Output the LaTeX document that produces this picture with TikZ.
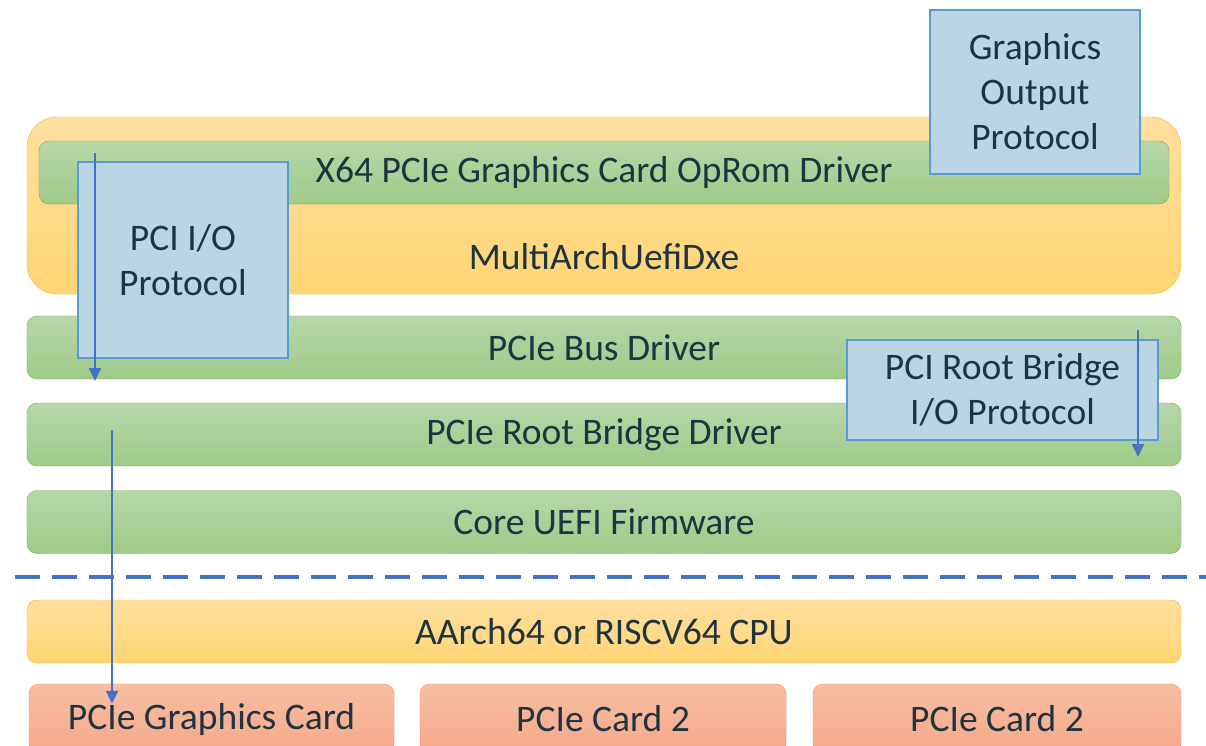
\documentclass[tikz,border=0pt]{standalone}
\usepackage{fontspec}
\setmainfont{Carlito}
\usetikzlibrary{arrows.meta}

\definecolor{txt}{RGB}{30,52,64}
\definecolor{arrowblue}{RGB}{68,114,196}
\definecolor{protofill}{RGB}{186,214,228}
\definecolor{protoline}{RGB}{91,155,213}
\definecolor{greentop}{RGB}{183,215,168}
\definecolor{greenbot}{RGB}{158,202,136}
\definecolor{greenline}{RGB}{112,173,71}
\definecolor{ambertop}{RGB}{255,223,160}
\definecolor{amberbot}{RGB}{255,213,115}
\definecolor{amberline}{RGB}{240,185,30}
\definecolor{cardtop}{RGB}{248,190,163}
\definecolor{cardbot}{RGB}{244,168,136}
\definecolor{cardline}{RGB}{232,140,100}

\tikzset{
  greenlayer/.style={draw=greenline, top color=greentop, bottom color=greenbot,
    rounded corners=10, minimum width=1154, minimum height=63, inner sep=0,
    text=txt, font=\fontsize{37.5}{40}\selectfont},
  amberlayer/.style={draw=amberline, top color=ambertop, bottom color=amberbot,
    rounded corners=10, minimum width=1154, minimum height=63, inner sep=0,
    text=txt, font=\fontsize{37.5}{40}\selectfont},
  cardbox/.style={draw=cardline, top color=cardtop, bottom color=cardbot,
    rounded corners=10, minimum height=70, inner sep=0,
    text=txt, font=\fontsize{37.5}{40}\selectfont},
  protobox/.style={draw=protoline, line width=1.6, fill=protofill, inner sep=0,
    align=center, text=txt, font=\fontsize{37.5}{45}\selectfont},
  flow/.style={draw=arrowblue, line width=2.2, -{Triangle[length=13,width=12]}}
}

\begin{document}
\begin{tikzpicture}[x=1pt,y=-1pt]
  \clip (0,0) rectangle (1206,746);
  \fill[white] (0,0) rectangle (1206,746);

  % Driver layers
  \node[amberlayer, rounded corners=30, minimum height=177] (dxe) at (604,205.5) {};
  \node[text=txt, font=\fontsize{37.5}{40}\selectfont] (dxelabel) at (604,257) {MultiArchUefiDxe};
  \node[greenlayer, minimum width=1130] (oprom) at (604,172.5) {X64 PCIe Graphics Card OpRom Driver};
  \node[greenlayer] (bus) at (604,347.5) {PCIe Bus Driver};
  \node[greenlayer] (rootbridge) at (604,434.5) {PCIe Root Bridge Driver};
  \node[greenlayer] (core) at (604,522) {Core UEFI Firmware};

  % Hardware below the line
  \coordinate (sepleft) at (15,577);
  \coordinate (sepright) at (1210,577);
  \draw[arrowblue, line width=3.5, dash pattern=on 25 off 12] (sepleft) -- (sepright);
  \node[amberlayer] (cpu) at (604,631.5) {AArch64 or RISCV64 CPU};
  \node[cardbox, minimum width=365] (gfxcard) at (211.5,719) {PCIe Graphics Card};
  \node[cardbox, minimum width=366] (card2a) at (603,719) {PCIe Card 2};
  \node[cardbox, minimum width=368] (card2b) at (997,719) {PCIe Card 2};

  % Protocols
  \node[protobox, minimum width=210, minimum height=196] (pciio) at (183,260) {PCI I/O\\Protocol};
  \node[protobox, minimum width=210, minimum height=164] (gop) at (1035,92) {Graphics\\Output\\Protocol};
  \node[protobox, minimum width=311, minimum height=100] (rbio) at (1002.5,390) {PCI Root Bridge\\I/O Protocol};

  % Arrows
  \coordinate (iotop) at (95,153);
  \coordinate (iobot) at (95,381);
  \coordinate (rbtop) at (1138,330);
  \coordinate (rbbot) at (1138,457);
  \coordinate (cardtop) at (112,430);
  \draw[flow] (iotop) -- (iobot);
  \draw[flow] (rbtop) -- (rbbot);
  \draw[flow] (cardtop) -- (cardtop |- gfxcard.north) -- ++(0,20);
\end{tikzpicture}
\end{document}
